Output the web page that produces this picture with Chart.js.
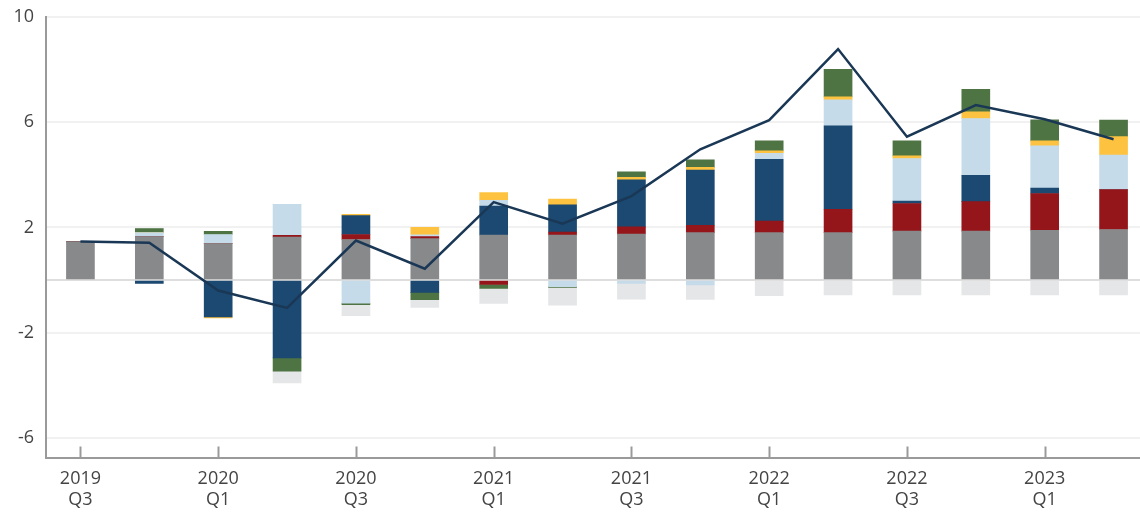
<!DOCTYPE html>
<html>
<head>
<meta charset="utf-8">
<script src="https://cdn.jsdelivr.net/npm/chart.js@4"></script>
<style>
  html, body { margin: 0; padding: 0; background: #fff; overflow: hidden; }
  #wrap { width: 1148px; height: 512px; position: relative; }
</style>
</head>
<body>
<div id="wrap"><canvas id="myChart"></canvas></div>
<script>
// DATOS //
const categories = [
  ["2019", "Q3"], ["2019", "Q4"], ["2020", "Q1"], ["2020", "Q2"],
  ["2020", "Q3"], ["2020", "Q4"], ["2021", "Q1"], ["2021", "Q2"],
  ["2021", "Q3"], ["2021", "Q4"], ["2022", "Q1"], ["2022", "Q2"],
  ["2022", "Q3"], ["2022", "Q4"], ["2023", "Q1"], ["2023", "Q2"],
];
const greyVals = [1.45, 1.65, 1.38, 1.63, 1.54, 1.57, 1.71, 1.71, 1.75, 1.8, 1.8, 1.8, 1.86, 1.86, 1.89, 1.92];
const redVals = [0, 0, 0, 0.07, 0.19, 0.08, -0.17, 0.11, 0.27, 0.28, 0.44, 0.89, 1.05, 1.12, 1.4, 1.52];
const darkBlueVals = [0, -0.13, -1.4, -2.96, 0.72, -0.47, 1.1, 1.04, 1.79, 2.1, 2.35, 3.17, 0.09, 1.0, 0.2, 0];
const lightBlueVals = [0, 0.15, 0.35, 1.18, -0.88, 0.07, 0.22, -0.25, -0.13, -0.19, 0.23, 0.99, 1.62, 2.16, 1.61, 1.31];
const yellowVals = [0, 0, -0.04, 0, 0.05, 0.28, 0.29, 0.22, 0.09, 0.1, 0.09, 0.11, 0.1, 0.25, 0.19, 0.7];
const greenVals = [0, 0.15, 0.12, -0.51, -0.06, -0.28, -0.15, -0.03, 0.21, 0.29, 0.38, 1.05, 0.57, 0.86, 0.8, 0.63];
const otherVals = [0, 0, 0, -0.44, -0.42, -0.29, -0.57, -0.68, -0.6, -0.55, -0.6, -0.57, -0.57, -0.57, -0.57, -0.57];
const totalVals = [1.46, 1.42, -0.4, -1.06, 1.5, 0.43, 2.96, 2.14, 3.19, 4.97, 6.08, 8.78, 5.45, 6.65, 6.11, 5.35];
const yTicks = [-6, -2, 0, 2, 6, 10];

const textColor = "#444";
const axisColor = "#9a9a9a";

// barras apiladas
function barSet(data, color) {
  return {
    type: "bar",
    data: data,
    backgroundColor: color,
    stack: "bars",
    order: 1,
    barThickness: 28,
  };
}

// marcas del eje x hacia dentro, solo en las etiquetas
const innerTicks = {
  id: "innerTicks",
  afterDraw(chart) {
    const x = chart.scales.x;
    const bottom = chart.chartArea.bottom;
    const ctx = chart.ctx;
    ctx.save();
    ctx.strokeStyle = axisColor;
    ctx.lineWidth = 2;
    for (let i = 0; i < categories.length; i += 2) {
      const px = Math.round(x.getPixelForValue(i)) + 0.5;
      ctx.beginPath();
      ctx.moveTo(px, bottom - 11);
      ctx.lineTo(px, bottom);
      ctx.stroke();
    }
    ctx.restore();
  },
};

document.addEventListener("DOMContentLoaded", function () {
  const ctx = document.getElementById("myChart").getContext("2d");
  Chart.defaults.font.family = "'Open Sans', sans-serif";
  new Chart(ctx, {
    data: {
      labels: categories,
      datasets: [
        barSet(greyVals, "#88898b"),
        barSet(redVals, "#94161a"),
        barSet(darkBlueVals, "#1b4971"),
        barSet(lightBlueVals, "#c5dbe9"),
        barSet(yellowVals, "#fdc340"),
        barSet(greenVals, "#4e7443"),
        barSet(otherVals, "#e5e6e8"),
        {
          type: "line",
          data: totalVals,
          borderColor: "#1a3856",
          borderWidth: 2.5,
          pointRadius: 0,
          tension: 0,
          stack: "line",
          order: 0,
        },
      ],
    },
    plugins: [innerTicks],
    options: {
      responsive: true,
      maintainAspectRatio: false,
      animation: false,
      layout: { padding: { top: 17, left: 12, right: 0, bottom: 0 } },
      plugins: {
        legend: { display: false },
        tooltip: { enabled: false },
      },
      scales: {
        x: {
          stacked: true,
          grid: { display: false, drawTicks: false },
          border: { display: true, color: axisColor, width: 2 },
          ticks: {
            autoSkip: false,
            maxRotation: 0,
            padding: 11,
            color: textColor,
            font: { size: 18, lineHeight: 1.15 },
            callback: function (value, index) {
              return index % 2 === 0 ? categories[index] : "";
            },
          },
          afterFit(scale) {
            scale.height = 54.5;
          },
        },
        y: {
          stacked: true,
          min: -6.75,
          max: 10,
          afterBuildTicks(scale) {
            scale.ticks = yTicks.map((v) => ({ value: v }));
          },
          afterFit(scale) {
            scale.width = 34;
            scale.paddingTop = 0;
            scale.paddingBottom = 0;
          },
          grid: {
            drawTicks: false,
            color: (c) => (c.tick && c.tick.value === 0 ? "#dedede" : "#f1f1f1"),
            lineWidth: 2,
          },
          border: { display: true, color: axisColor, width: 2 },
          ticks: {
            padding: 12,
            color: textColor,
            font: { size: 18 },
            callback: function (value) {
              return value === 0 ? "" : value;
            },
          },
        },
      },
    },
  });
});
</script>
</body>
</html>
